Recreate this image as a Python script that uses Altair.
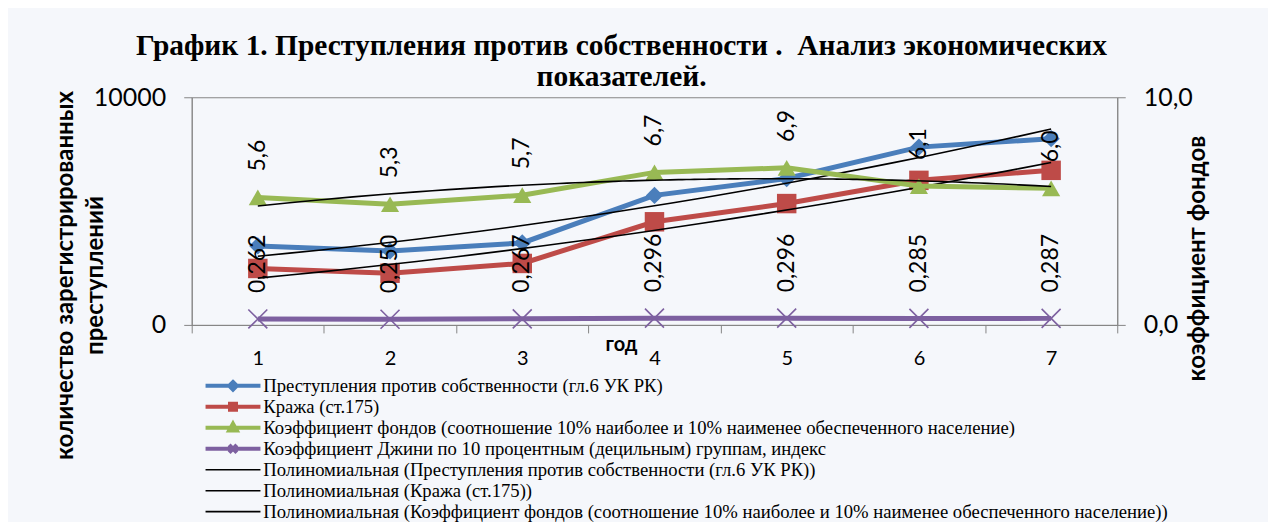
import altair as alt
import pandas as pd

# ---------------- data ----------------
years = [1, 2, 3, 4, 5, 6, 7]
crimes = [3470, 3250, 3600, 5690, 6430, 7810, 8180]
theft = [2480, 2270, 2700, 4530, 5330, 6350, 6790]
fund_coef = [5.6, 5.3, 5.7, 6.7, 6.9, 6.1, 6.0]
gini = [0.262, 0.250, 0.267, 0.296, 0.296, 0.285, 0.287]

series_names = [
    "Преступления против собственности (гл.6 УК РК)",
    "Кража (ст.175)",
    "Коэффициент фондов (соотношение 10% наиболее и 10% наименее обеспеченного население)",
    "Коэффициент Джини по 10 процентным (децильным) группам, индекс",
]
trend_names = [
    "Полиномиальная (Преступления против собственности (гл.6 УК РК))",
    "Полиномиальная (Кража (ст.175))",
    "Полиномиальная (Коэффициент фондов (соотношение 10% наиболее и 10% наименее обеспеченного население))",
]
series_colors = ["#4a7ebb", "#be4b48", "#98b954", "#7d60a0"]
x_ticks = [0.5, 1, 1.5, 2, 2.5, 3, 3.5, 4, 4.5, 5, 5.5, 6, 6.5, 7, 7.5]

title_lines = ["График 1. Преступления против собственности .\u00a0 Анализ экономических", "показателей."]
left_title = ["количество зарегистрированных", "преступлений"]
right_title = "коэффициент фондов"
x_title = "год"

# ---------------- tables ----------------
left_df = pd.DataFrame({
    "year": years * 2,
    "value": crimes + theft,
    "series": [series_names[0]] * 7 + [series_names[1]] * 7,
})
right_df = pd.DataFrame({
    "year": years * 2,
    "value": fund_coef + gini,
    "series": [series_names[2]] * 7 + [series_names[3]] * 7,
})
legend_df = pd.DataFrame({"series": series_names + trend_names})

AX_COLOR = "#868686"
NUM_FONT = "Lato"

x_enc = alt.X(
    "year:Q",
    scale=alt.Scale(domain=[0.5, 7.5], nice=False, zero=False),
    axis=alt.Axis(
        values=x_ticks,
        labelExpr="datum.value % 1 === 0 ? format(datum.value, 'd') : ''",
        tickOpacity={"condition": {"test": "datum.value % 1 !== 0", "value": 1}, "value": 0},
        tickSize=8, labelPadding=16, labelFont=NUM_FONT, labelFontSize=20, labelColor="black",
        domainColor=AX_COLOR, tickColor=AX_COLOR, grid=False,
        labelOverlap=False, labelFlush=False,
        title=x_title, titleFont=NUM_FONT, titleFontSize=20, titleFontWeight="bold",
        titleColor="black", titleX=430, titleY=20, titleBaseline="middle", titleAlign="center",
    ),
)

y_left = alt.Y(
    "value:Q",
    scale=alt.Scale(domain=[0, 10000], nice=False),
    axis=alt.Axis(
        orient="left", values=[0, 10000], format="d", tickSize=8, labelPadding=18,
        labelFont=NUM_FONT, labelFontSize=25, labelColor="black", grid=False,
        domainColor=AX_COLOR, tickColor=AX_COLOR,
        title=left_title, titleFont=NUM_FONT, titleFontSize=24, titleFontWeight="bold",
        titleColor="black", titleAngle=270, titleX=-126, titleY=178,
        titleAlign="center", titleBaseline="middle", titleLineHeight=30,
    ),
)

y_right = alt.Y(
    "value:Q",
    scale=alt.Scale(domain=[0, 10], nice=False),
    axis=alt.Axis(
        orient="right", values=[0, 10],
        labelExpr="replace(format(datum.value, '.1f'), '.', ',')",
        tickSize=8, labelPadding=18, labelFont=NUM_FONT, labelFontSize=25, labelColor="black",
        grid=False, domainColor=AX_COLOR, tickColor=AX_COLOR,
        title=right_title, titleFont=NUM_FONT, titleFontSize=24, titleFontWeight="bold",
        titleColor="black", titleAngle=270, titleX=80, titleY=161,
        titleAlign="center", titleBaseline="middle",
    ),
)

X_PATH = "M-1,-1L1,1M-1,1L1,-1"


def series_layers(df, name, color, y_enc, marker):
    base = alt.Chart(df).transform_filter(alt.datum.series == name)
    line = base.mark_line(color=color, strokeWidth=5).encode(x=x_enc, y=y_enc)
    if marker == "x":
        pts = base.mark_point(filled=False, shape=X_PATH, size=361, strokeWidth=1.6,
                              color=color, opacity=1).encode(x=x_enc, y=y_enc)
    else:
        size = {"diamond": 300, "square": 380, "triangle-up": 330}[marker]
        pts = base.mark_point(filled=True, shape=marker, size=size, color=color,
                              opacity=1).encode(x=x_enc, y=y_enc)
    return [line, pts]


left_layers = []
left_layers += series_layers(left_df, series_names[0], series_colors[0], y_left, "diamond")
left_layers += series_layers(left_df, series_names[1], series_colors[1], y_left, "square")
left_trend = alt.Chart(left_df).transform_regression(
    "year", "value", groupby=["series"], method="poly", order=2, extent=[1, 7]
).mark_line(color="black", strokeWidth=1.6).encode(x=x_enc, y=y_left, detail="series:N")
left_layers.append(left_trend)

right_layers = []
right_layers += series_layers(right_df, series_names[2], series_colors[2], y_right, "triangle-up")
right_layers += series_layers(right_df, series_names[3], series_colors[3], y_right, "x")
right_trend = alt.Chart(right_df).transform_filter(alt.datum.series == series_names[2]).transform_regression(
    "year", "value", method="poly", order=2, extent=[1, 7]
).mark_line(color="black", strokeWidth=1.6).encode(x=x_enc, y=y_right)
right_layers.append(right_trend)

labels = alt.Chart(right_df).transform_calculate(
    lab="replace(datum.value < 1 ? format(datum.value, '.3f') : format(datum.value, '.1f'), '.', ',')"
).mark_text(angle=270, align="left", baseline="middle", dx=26, font=NUM_FONT,
            fontSize=23, color="black").encode(x=x_enc, y=y_right, text="lab:N")
right_layers.append(labels)

# legend (drawn from scales only; the layer has no rows of its own)
all_names = series_names + trend_names
all_colors = series_colors + ["black"] * 3
legend_paths = [
    "M-5,0H5M0,-0.7L0.7,0L0,0.7L-0.7,0Z",
    "M-5,0H5M-0.55,-0.55H0.55V0.55H-0.55Z",
    "M-5,0H5M0,-0.75L0.7,0.5L-0.7,0.5Z",
    "M-5,0H5M-0.7,-0.7L0.7,0.7M-0.7,0.7L0.7,-0.7",
    "M-5,0H5", "M-5,0H5", "M-5,0H5",
]
leg = alt.Legend(
    title=None, orient="none", legendX=10, legendY=279,
    labelFont="Liberation Serif", labelFontSize=18.7, labelColor="black", labelLimit=2000,
    symbolSize=121, symbolOffset=22, labelOffset=21, rowPadding=0, clipHeight=20.1,
    symbolOpacity=1,
)
legend_layer = alt.Chart(legend_df).transform_filter("false").mark_point(
    filled=False, opacity=1, size=121
).encode(
    color=alt.Color("series:N", scale=alt.Scale(domain=all_names, range=all_colors), legend=leg),
    fill=alt.Fill("series:N", scale=alt.Scale(domain=all_names, range=all_colors), legend=leg),
    shape=alt.Shape("series:N", scale=alt.Scale(domain=all_names, range=legend_paths), legend=leg),
    strokeWidth=alt.StrokeWidth(
        "series:N",
        scale=alt.Scale(type="ordinal", domain=all_names, range=[4, 4, 4, 4, 1.6, 1.6, 1.6]),
        legend=leg,
    ),
)

chart = alt.layer(
    alt.layer(*left_layers),
    alt.layer(*right_layers),
    legend_layer,
).resolve_scale(y="independent").properties(
    width=927, height=228,
    autosize=alt.AutoSizeParams(type="none"),
    padding={"left": 184, "top": 89, "right": 151, "bottom": 197},
    background="#f5f7fb",
    title=alt.TitleParams(
        text=title_lines, font="Liberation Serif", fontSize=29.5, fontWeight="bold",
        color="black", anchor="middle", frame="group", dx=-33, dy=11, lineHeight=31,
    ),
).configure_view(fill="white", stroke=AX_COLOR, strokeWidth=1)

chart.save("out.html", embed_options={"renderer": "svg", "actions": False})
